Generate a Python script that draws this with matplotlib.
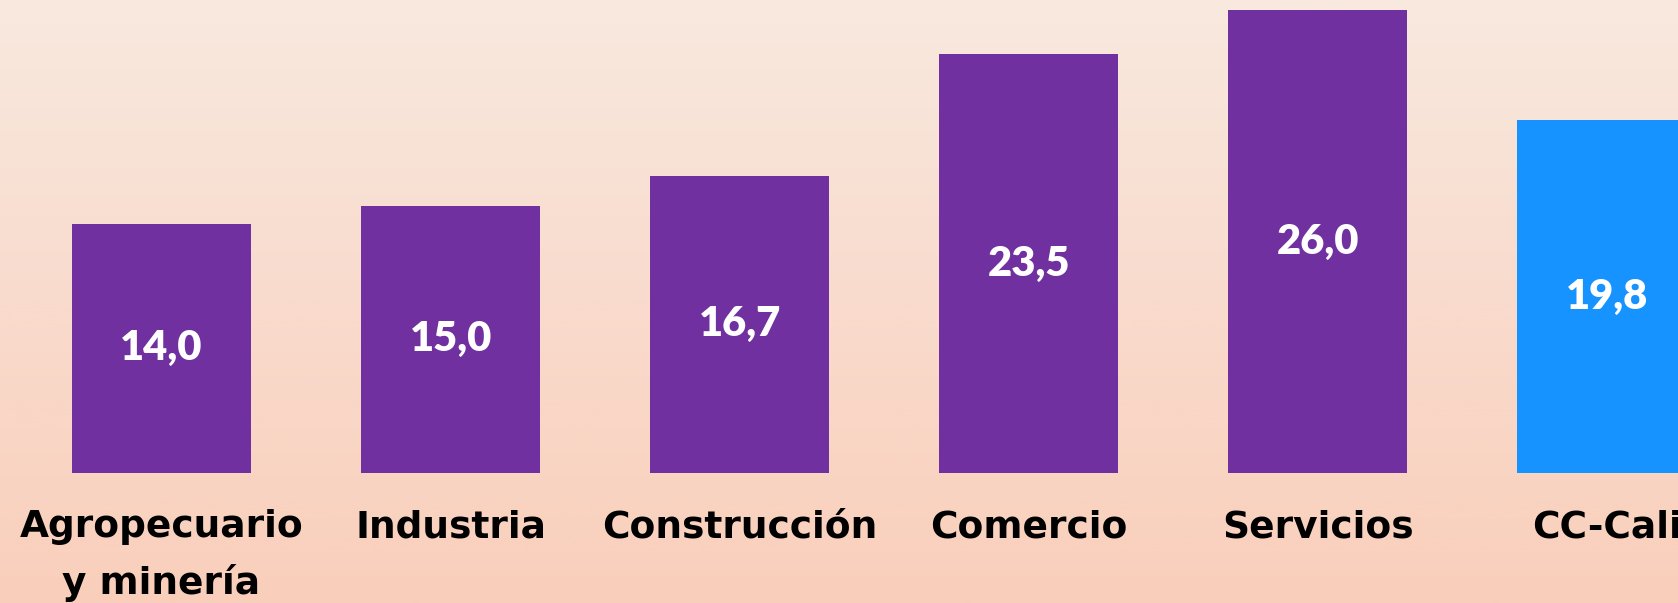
import numpy as np
import matplotlib.pyplot as plt
from matplotlib.colors import LinearSegmentedColormap

# data
categories = ["Agropecuario\ny minería", "Industria", "Construcción",
              "Comercio", "Servicios", "CC-Cali"]
values = [14.0, 15.0, 16.7, 23.5, 26.0, 19.8]
value_labels = ["14,0", "15,0", "16,7", "23,5", "26,0", "19,8"]

purple = "#7030A0"
blue = "#1793FF"
bar_colors = [purple] * 5 + [blue]

fig = plt.figure(figsize=(16.78, 6.03), dpi=100)

# background gradient
bg = fig.add_axes([0, 0, 1, 1], zorder=0)
grad = np.linspace(0, 1, 256).reshape(-1, 1)
cmap = LinearSegmentedColormap.from_list("bg", ["#F8E9DF", "#F9DBCD", "#F9CFBB"])
bg.imshow(grad, cmap=cmap, aspect="auto", extent=[0, 1, 0, 1])
bg.axis("off")

ax = fig.add_axes([0, 0.2156, 1, 0.7844], zorder=1)
ax.patch.set_alpha(0)
x = np.arange(len(categories))
bars = ax.bar(x, values, width=0.622, color=bar_colors, edgecolor="none")

for xi, v, lab in zip(x, values, value_labels):
    ax.text(xi, v / 2, lab, ha="center", va="center", color="white",
            fontsize=30, fontweight="heavy", fontname="Lato")

ax.set_xlim(-0.559, 5.247)
ax.set_ylim(0, 26.56)
ax.set_xticks(x)
ax.set_xticklabels(categories, fontsize=27, fontweight="bold",
                   fontname="DejaVu Sans", linespacing=1.62)
ax.tick_params(axis="x", length=0, pad=26)
ax.set_yticks([])
for s in ax.spines.values():
    s.set_visible(False)

plt.savefig("out.png", dpi=100)
